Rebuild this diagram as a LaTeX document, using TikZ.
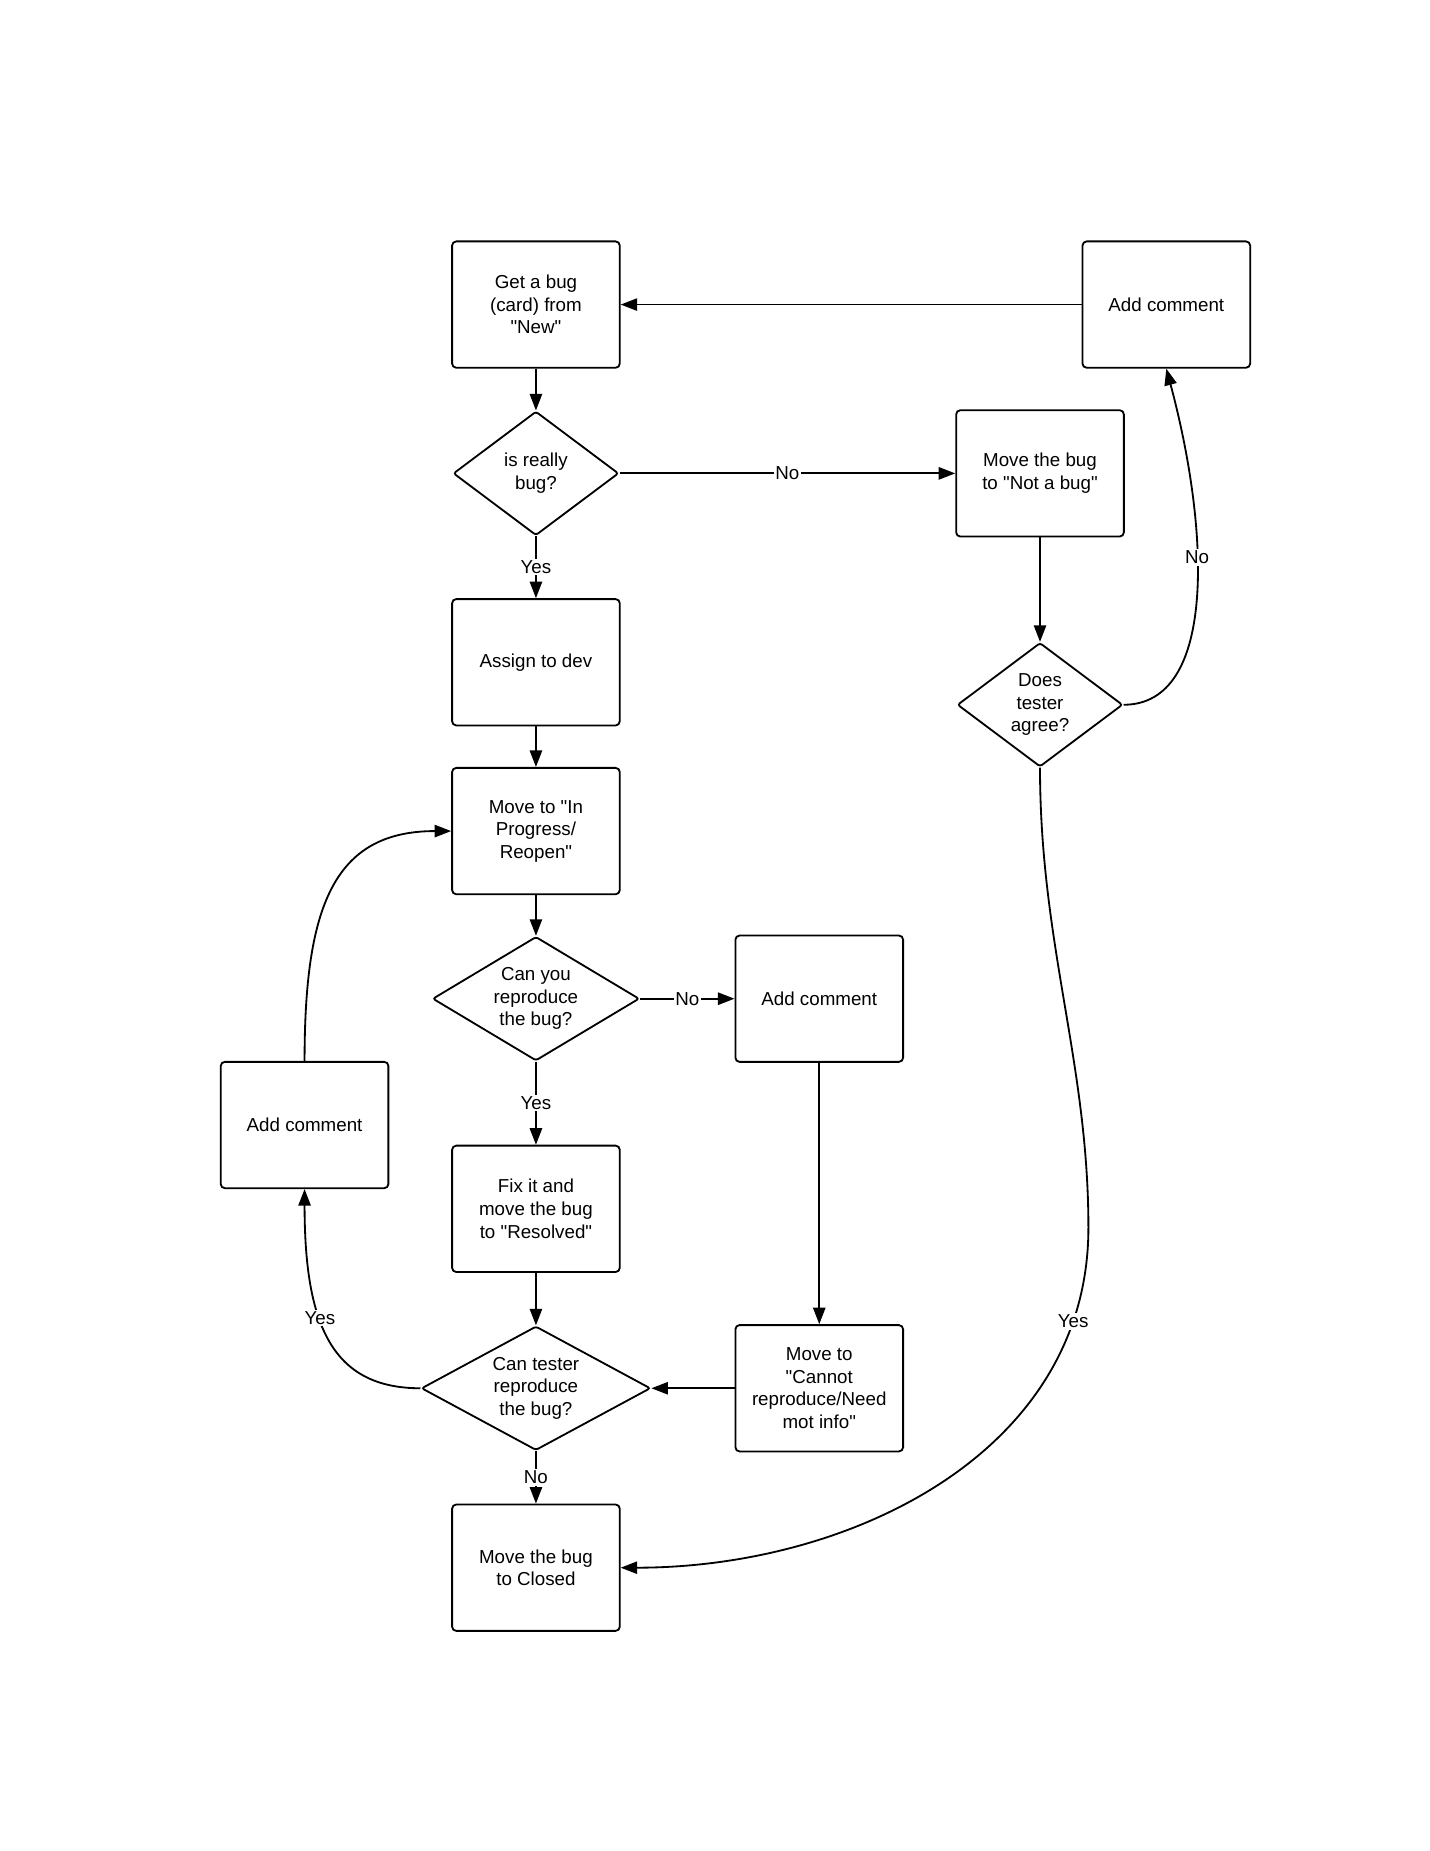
\documentclass[tikz,border=0pt]{standalone}
\usepackage{fontspec}
\setmainfont{Liberation Sans}[Ligatures=TeXOff]
\usepackage{tikz}
\usetikzlibrary{arrows.meta, positioning, shapes.geometric}
\newcommand{\flowfont}{\fontsize{11.3pt}{13.6pt}\selectfont}

\begin{document}
\begin{tikzpicture}[
  x=0.025cm, y=-0.025cm,
  box/.style={rectangle, draw=black, line width=1.1pt, rounded corners=2.5pt, minimum width=3.55cm, minimum height=2.675cm, align=center, inner sep=2pt, font=\flowfont},
  decision/.style={diamond, draw=black, line width=1.1pt, rounded corners=1.5pt, minimum height=2.625cm, inner sep=0pt, align=center, font=\flowfont},
  arrow/.style={-{Triangle[length=3.5mm, width=2.6mm]}, line width=1.1pt},
  lbl/.style={fill=white, inner sep=1pt, font=\flowfont}
]
  \useasboundingbox (0,0) rectangle (1211,1568);

  % Main column
  \node[box] (getbug) at (454,258) {Get a bug\\(card) from\\"New"};
  \node[decision, minimum width=3.5cm, shape aspect=1.33] (reallybug) at (454,401) {is really\\bug?};
  \node[box] (assign) at (454,561) {Assign to dev};
  \node[box] (progress) at (454,704) {Move to "In\\Progress/\\Reopen"};
  \node[decision, minimum width=4.375cm, shape aspect=1.67] (canyou) at (454,846) {Can you\\reproduce\\the bug?};
  \node[box] (fix) at (454,1024) {Fix it and\\move the bug\\to "Resolved"};
  \node[decision, minimum width=4.85cm, shape aspect=1.85] (tester) at (454,1176) {Can tester\\reproduce\\the bug?};
  \node[box] (closed) at (454,1328) {Move the bug\\to Closed};

  % Side boxes
  \node[box] (commentleft) at (258,953) {Add comment};
  \node[box] (commentmid) at (694,846) {Add comment};
  \node[box] (cannot) at (694,1176) {Move to\\"Cannot\\reproduce/Need\\mot info"};

  % Right branch
  \node[box] (notbug) at (881,401) {Move the bug\\to "Not a bug"};
  \node[decision, minimum width=3.5cm, shape aspect=1.33] (agree) at (881,597) {Does\\tester\\agree?};
  \node[box] (commenttop) at (988,258) {Add comment};
  \coordinate (bend) at (922,1040);

  \draw[arrow] (getbug) -- (reallybug);
  \draw[arrow] (commenttop) -- (getbug);
  \draw[arrow] (reallybug) -- node[lbl] {No} (notbug);
  \draw[arrow] (reallybug) -- node[lbl] {Yes} (assign);
  \draw[arrow] (assign) -- (progress);
  \draw[arrow] (notbug) -- (agree);
  \draw[arrow] (agree.east) .. controls +(79,0) and +(37,138) .. (commenttop.south) node[lbl, pos=0.6] {No};
  \draw[arrow] (progress) -- (canyou);
  \draw[arrow] (canyou) -- node[lbl] {No} (commentmid);
  \draw[arrow] (canyou) -- node[lbl] {Yes} (fix);
  \draw[arrow] (fix) -- (tester);
  \draw[arrow] (commentmid) -- (cannot);
  \draw[arrow] (cannot) -- (tester);
  \draw[arrow] (tester) -- node[lbl] {No} (closed);
  \draw[arrow] (tester.west) .. controls +(-75,0) and +(0,115) .. (commentleft.south) node[lbl, pos=0.6] {Yes};
  \draw[arrow] (commentleft.north) .. controls +(0,-130) and +(-100,0) .. (progress.west);
  \draw[arrow] (agree.south) .. controls +(0,150) and +(0,-140) .. (bend)
    .. controls +(0,190) and +(195,0) .. (closed.east) node[lbl, pos=0.15] {Yes};

\end{tikzpicture}
\end{document}
